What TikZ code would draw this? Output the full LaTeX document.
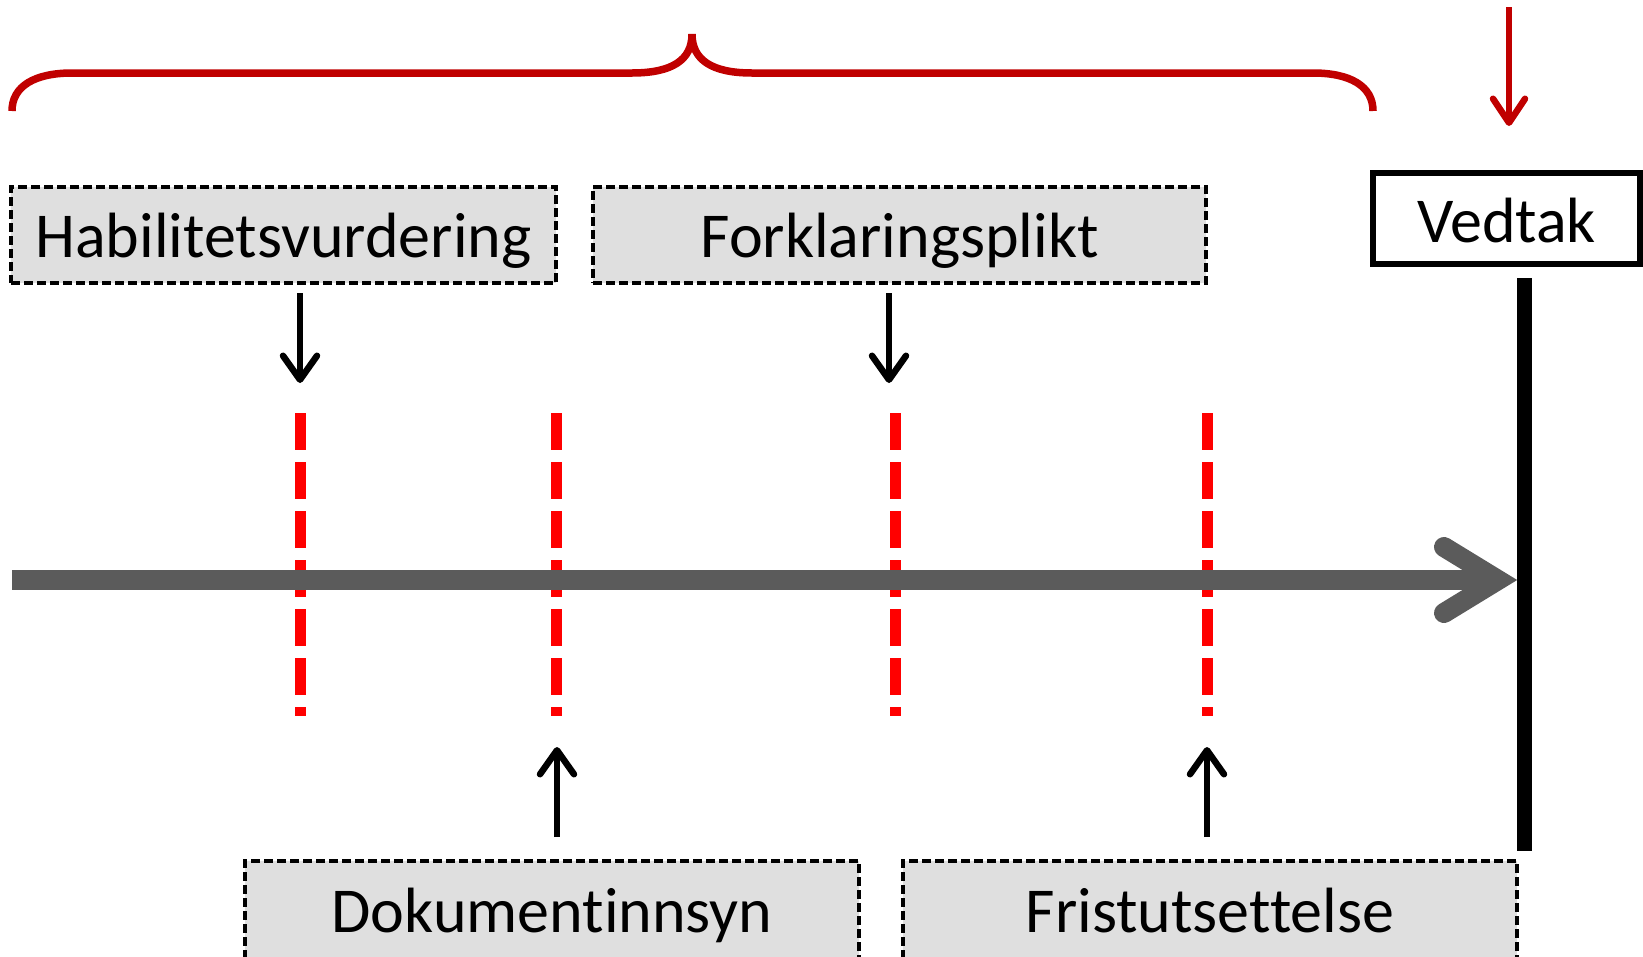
\documentclass[tikz,border=0pt]{standalone}
\usepackage{fontspec}
\setmainfont{Carlito}[Ligatures=NoCommon]
\usetikzlibrary{arrows.meta}
\definecolor{darkred}{HTML}{C00000}
\definecolor{boxgray}{HTML}{DFDFDF}
\definecolor{axisgray}{HTML}{5B5B5B}
\tikzset{
  dashbox/.style={draw=black, fill=boxgray, line width=3.5pt, dash pattern=on 9pt off 4pt, inner sep=0pt, font=\fontsize{64}{77}\selectfont},
  solidbox/.style={draw=black, line width=6pt, inner sep=0pt, font=\fontsize{64}{77}\selectfont},
  blackarrow/.style={draw=black, line width=6.5pt, -{Straight Barb[length=24pt, width=34pt, line cap=round, line join=round]}},
  redarrow/.style={draw=darkred, line width=6.5pt, -{Straight Barb[length=24pt, width=32pt, line cap=round, line join=round]}},
  reddash/.style={draw=red, line width=11pt, dash pattern=on 37pt off 12pt},
  bracestyle/.style={draw=darkred, line width=7.5pt},
}
\begin{document}
\begin{tikzpicture}[x=1pt, y=-1pt]
\useasboundingbox (0,0) rectangle (1643,956);
\clip (0,0) rectangle (1643,956);

% brace
\draw[bracestyle] (12,111) .. controls (12,86) and (35,73) .. (72,73) -- (632,73)
  .. controls (672,73) and (692,60) .. (692,34)
  .. controls (692,60) and (712,73) .. (752,73) -- (1313,73)
  .. controls (1350,73) and (1373,86) .. (1373,111);

% boxes
\node[dashbox, minimum width=545pt, text height=70pt, text depth=26pt] (habil) at (283.5,235) {Habilitetsvurdering};
\node[dashbox, minimum width=613pt, text height=70pt, text depth=26pt] (forkl) at (899.5,235) {Forklaringsplikt};
\node[solidbox, minimum width=267pt, text height=69pt, text depth=22pt] (vedtak) at (1506.5,218.5) {Vedtak};
\node[dashbox, minimum width=614pt, text height=71pt, text depth=29pt] (dok) at (552,911) {Dokumentinnsyn};
\node[dashbox, minimum width=614pt, text height=71pt, text depth=29pt] (frist) at (1210,911) {Fristutsettelse};

% coordinates
\coordinate (redtop) at (1509,7);
\coordinate (redtip) at (1509,126);
\coordinate (d1s) at (300,293);
\coordinate (d1e) at (300,383);
\coordinate (d2s) at (889,293);
\coordinate (d2e) at (889,383);
\coordinate (u1s) at (557,837);
\coordinate (u1e) at (557,747);
\coordinate (u2s) at (1207,837);
\coordinate (u2e) at (1207,747);
\coordinate (axs) at (12,580);
\coordinate (axe) at (1490,580);
\coordinate (tip) at (1498,580);
\coordinate (armA) at (1444,547);
\coordinate (armB) at (1444,613);
\coordinate (bartop) at (1524.5,278);
\coordinate (barbot) at (1524.5,851);

% red dashed markers
\foreach \n/\x in {r1/300, r2/556, r3/895, r4/1207}{
  \coordinate (\n t) at (\x,413);
  \coordinate (\n b) at (\x,716);
  \draw[reddash] (\n t) -- (\n b);
}

% timeline
\draw[draw=axisgray, line width=20pt] (axs) -- (axe);
\draw[draw=axisgray, line width=20pt, line cap=round, line join=miter, miter limit=10] (armA) -- (tip) -- (armB);

% decision bar
\draw[line width=15pt] (bartop) -- (barbot);

% arrows
\draw[redarrow] (redtop) -- (redtip);
\draw[blackarrow] (d1s) -- (d1e);
\draw[blackarrow] (d2s) -- (d2e);
\draw[blackarrow] (u1s) -- (u1e);
\draw[blackarrow] (u2s) -- (u2e);
\end{tikzpicture}
\end{document}
